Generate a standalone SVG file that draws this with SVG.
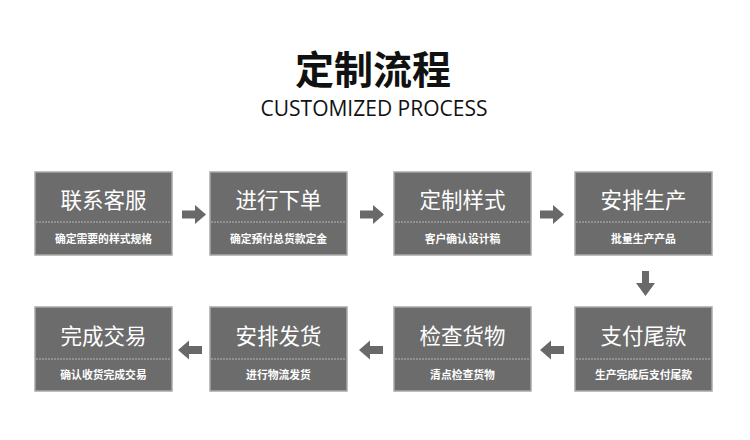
<svg xmlns="http://www.w3.org/2000/svg" width="750" height="440" viewBox="0 0 750 440">
<style>
.box{fill:#6c6c6c;stroke:#a8a8a8;stroke-width:1.5}
.div{stroke:#b5b5b5;stroke-width:1;stroke-dasharray:2 1}
.t{font-family:"Noto Sans CJK SC","Noto Sans",sans-serif;fill:#ffffff;text-anchor:middle}
.h{font-size:21.5px}
.s{font-size:10.8px;font-weight:bold}
.arr{fill:#696969}
</style>
<rect width="750" height="440" fill="#ffffff"/>
<g id="title">
<text x="373" y="84" font-family="'Noto Sans CJK SC',sans-serif" font-size="39" font-weight="700" fill="#111" text-anchor="middle">定制流程</text>
<text x="374" y="115.5" font-family="'Open Sans','Noto Sans',sans-serif" font-size="21" fill="#111" text-anchor="middle">CUSTOMIZED PROCESS</text>
</g>
<g id="n1"><rect class="box" x="35" y="172" width="137" height="83"/><line class="div" x1="36" y1="222" x2="171" y2="222"/><text class="t h" x="103.5" y="208">联系客服</text><text class="t s" x="103.5" y="243">确定需要的样式规格</text></g>
<g id="n2"><rect class="box" x="210" y="172" width="137" height="83"/><line class="div" x1="211" y1="222" x2="346" y2="222"/><text class="t h" x="278.5" y="208">进行下单</text><text class="t s" x="278.5" y="243">确定预付总货款定金</text></g>
<g id="n3"><rect class="box" x="394" y="172" width="137" height="83"/><line class="div" x1="395" y1="222" x2="530" y2="222"/><text class="t h" x="462.5" y="208">定制样式</text><text class="t s" x="462.5" y="243">客户确认设计稿</text></g>
<g id="n4"><rect class="box" x="575" y="172" width="137" height="83"/><line class="div" x1="576" y1="222" x2="711" y2="222"/><text class="t h" x="643.5" y="208">安排生产</text><text class="t s" x="643.5" y="243">批量生产产品</text></g>
<g id="n5"><rect class="box" x="575" y="307" width="137" height="84"/><line class="div" x1="576" y1="359" x2="711" y2="359"/><text class="t h" x="643.5" y="344">支付尾款</text><text class="t s" x="643.5" y="379">生产完成后支付尾款</text></g>
<g id="n6"><rect class="box" x="394" y="307" width="137" height="84"/><line class="div" x1="395" y1="359" x2="530" y2="359"/><text class="t h" x="462.5" y="344">检查货物</text><text class="t s" x="462.5" y="379">清点检查货物</text></g>
<g id="n7"><rect class="box" x="210" y="307" width="137" height="84"/><line class="div" x1="211" y1="359" x2="346" y2="359"/><text class="t h" x="278.5" y="344">安排发货</text><text class="t s" x="278.5" y="379">进行物流发货</text></g>
<g id="n8"><rect class="box" x="35" y="307" width="137" height="84"/><line class="div" x1="36" y1="359" x2="171" y2="359"/><text class="t h" x="103.5" y="344">完成交易</text><text class="t s" x="103.5" y="379">确认收货完成交易</text></g>
<g id="connectors">
<path class="arr" d="M182,210.5h13v-5.5l11,9.5l-11,9.5v-5.5h-13z"/>
<path class="arr" d="M360,210.5h13v-5.5l11,9.5l-11,9.5v-5.5h-13z"/>
<path class="arr" d="M540,210.5h13v-5.5l11,9.5l-11,9.5v-5.5h-13z"/>
<path class="arr" d="M642,271h7v12h6l-9.5,13l-9.5,-13h6z"/>
<path class="arr" d="M564,346h-13v-5.5l-11,9.5l11,9.5v-5.5h13z"/>
<path class="arr" d="M383,346h-13v-5.5l-11,9.5l11,9.5v-5.5h13z"/>
<path class="arr" d="M202,346h-13v-5.5l-11,9.5l11,9.5v-5.5h13z"/>
</g>
</svg>
